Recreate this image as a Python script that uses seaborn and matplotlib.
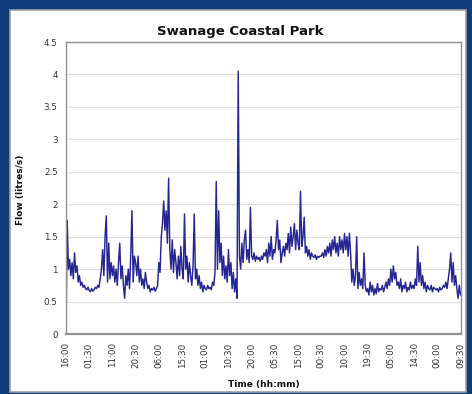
import numpy as np
import pandas as pd
import matplotlib
matplotlib.use("Agg")
import matplotlib.pyplot as plt
from matplotlib.patches import Rectangle
import seaborn as sns

# flow readings (litres/s), one every 30 minutes starting 16:00
flow = [
    # 16:00 - 01:30
    0.05, 1.75, 1.0, 1.15, 0.9, 1.1, 0.85, 1.25, 0.95, 1.05, 0.8, 0.9, 0.75, 0.8, 0.72, 0.75, 0.7, 0.68, 0.72,
    # 01:30 - 11:00
    0.67, 0.65, 0.7, 0.66, 0.68, 0.72, 0.7, 0.75, 0.72, 0.85, 1.0, 1.3, 0.9, 1.5, 1.82, 0.8, 1.4, 0.85, 1.1,
    # 11:00 - 20:30
    0.9, 1.05, 0.8, 1.0, 0.75, 1.1, 1.4, 0.85, 1.05, 0.75, 0.55, 0.9, 0.75, 1.0, 0.7, 1.2, 1.9, 0.8, 1.2,
    # 20:30 - 06:00
    1.1, 0.9, 1.2, 0.8, 1.0, 0.75, 0.85, 0.7, 0.95, 0.8, 0.7, 0.75, 0.65, 0.7, 0.68, 0.72, 0.66, 0.7, 0.75,
    # 06:00 - 15:30
    1.1, 0.95, 1.5, 1.7, 2.05, 1.6, 1.9, 1.4, 2.4, 1.3, 1.0, 1.45, 0.95, 1.3, 1.1, 0.85, 1.2, 0.9, 1.35,
    # 15:30 - 01:00
    1.0, 0.85, 1.85, 1.0, 1.2, 0.8, 1.1, 0.9, 0.75, 1.05, 1.85, 0.85, 1.0, 0.75, 0.9, 0.7, 0.8, 0.65, 0.75,
    # 01:00 - 10:30
    0.7, 0.68, 0.75, 0.7, 0.72, 0.68, 0.8, 0.75, 0.95, 2.35, 1.0, 1.9, 1.1, 1.4, 0.9, 1.2, 0.85, 1.05, 0.8,
    # 10:30 - 20:00
    1.3, 0.9, 1.1, 0.7, 0.95, 0.65, 0.85, 0.55, 4.05, 1.2, 1.0, 1.4, 1.1, 1.45, 1.6, 1.15, 1.3, 1.1, 1.95,
    # 20:00 - 05:30
    1.2, 1.15, 1.25, 1.12, 1.2, 1.15, 1.18, 1.12, 1.2, 1.15, 1.25, 1.2, 1.3, 1.1, 1.4, 1.2, 1.5, 1.15, 1.3,
    # 05:30 - 15:00
    1.25, 1.45, 1.75, 1.3, 1.45, 1.1, 1.25, 1.35, 1.2, 1.4, 1.3, 1.55, 1.25, 1.65, 1.35, 1.5, 1.7, 1.3, 1.6,
    # 15:00 - 00:30
    1.4, 1.3, 2.2, 1.35, 1.5, 1.8, 1.25, 1.35, 1.2, 1.3, 1.15, 1.25, 1.2, 1.18, 1.22, 1.15, 1.2, 1.18, 1.2,
    # 00:30 - 10:00
    1.2, 1.25, 1.18, 1.3, 1.2, 1.35, 1.25, 1.4, 1.2, 1.45, 1.3, 1.5, 1.25, 1.4, 1.2, 1.5, 1.3, 1.45, 1.25,
    # 10:00 - 19:30
    1.55, 1.3, 1.5, 1.2, 1.55, 1.25, 0.8, 1.0, 0.75, 0.9, 1.5, 0.7, 0.95, 0.75, 0.85, 0.7, 1.25, 0.75, 0.65,
    # 19:30 - 05:00
    0.7, 0.6, 0.8, 0.65, 0.75, 0.6, 0.7, 0.62, 0.78, 0.65, 0.7, 0.68, 0.75, 0.65, 0.72, 0.8, 0.7, 0.85, 0.75,
    # 05:00 - 14:30
    1.0, 0.8, 1.05, 0.85, 0.95, 0.75, 0.8, 0.7, 0.85, 0.65, 0.75, 0.7, 0.8, 0.65, 0.72, 0.68, 0.8, 0.7, 0.75,
    # 14:30 - 00:00
    0.7, 0.85, 0.75, 1.35, 0.8, 1.1, 0.75, 0.9, 0.7, 0.8, 0.65, 0.75, 0.7, 0.68, 0.75, 0.65, 0.72, 0.7, 0.68,
    # 00:00 - 09:30
    0.7, 0.65, 0.72, 0.68, 0.7, 0.75, 0.72, 0.8, 0.7, 0.85, 1.0, 1.25, 0.8, 1.1, 0.75, 0.9, 0.7, 0.55, 0.75, 0.6,
]

tick_labels = ["16:00", "01:30", "11:00", "20:30", "06:00", "15:30", "01:00", "10:30", "20:00",
               "05:30", "15:00", "00:30", "10:00", "19:30", "05:00", "14:30", "00:00", "09:30"]
tick_hours = [9.5 * i for i in range(len(tick_labels))]

df = pd.DataFrame({"hours": np.arange(len(flow)) * 0.5, "flow": flow})

sns.set_style("white")
plt.rcParams["font.family"] = ["DejaVu Sans"]

fig = plt.figure(figsize=(4.72, 3.94), dpi=100)
fig.patch.set_facecolor("#0f3d7c")
# white inner panel, kept behind the axes
fig.patches.append(Rectangle((10 / 472, 2 / 394), 456 / 472, 382 / 394, transform=fig.transFigure,
                             facecolor="white", edgecolor="#a0a0a0", linewidth=1.2, zorder=-5))

ax = fig.add_axes([66 / 472, 1 - 334 / 394, 395 / 472, 292 / 394])
ax.set_zorder(2)
sns.lineplot(data=df, x="hours", y="flow", ax=ax, color="#252594", linewidth=1.05)

ax.set_xlim(0, 161.7)
ax.set_ylim(0, 4.5)
ax.set_yticks(np.arange(0, 4.51, 0.5))
ax.set_yticklabels(["0", "0.5", "1", "1.5", "2", "2.5", "3", "3.5", "4", "4.5"])
ax.set_xticks(tick_hours)
ax.set_xticklabels(tick_labels, rotation=90)
ax.tick_params(axis="both", labelsize=6.3, colors="#333333", length=0, pad=6)
ax.yaxis.grid(True, color="#dcdcdc", linewidth=0.8)
for s in ax.spines.values():
    s.set_color("#909090")
    s.set_linewidth(1.0)
ax.spines["bottom"].set_linewidth(1.6)

ax.set_xlabel("")
ax.set_ylabel("")
fig.text(0.51, 1 - 32 / 394, "Swanage Coastal Park", ha="center", va="center",
         fontsize=9.5, fontweight="bold", color="#111111")
fig.text(20 / 472, 1 - 190 / 394, "Flow (litres/s)", ha="center", va="center", rotation=90,
         fontsize=6.5, fontweight="bold", color="#111111")
fig.text(264 / 472, 1 - 384 / 394, "Time (hh:mm)", ha="center", va="center",
         fontsize=6.5, fontweight="bold", color="#111111")

fig.savefig("out.png", dpi=100, facecolor=fig.get_facecolor())
